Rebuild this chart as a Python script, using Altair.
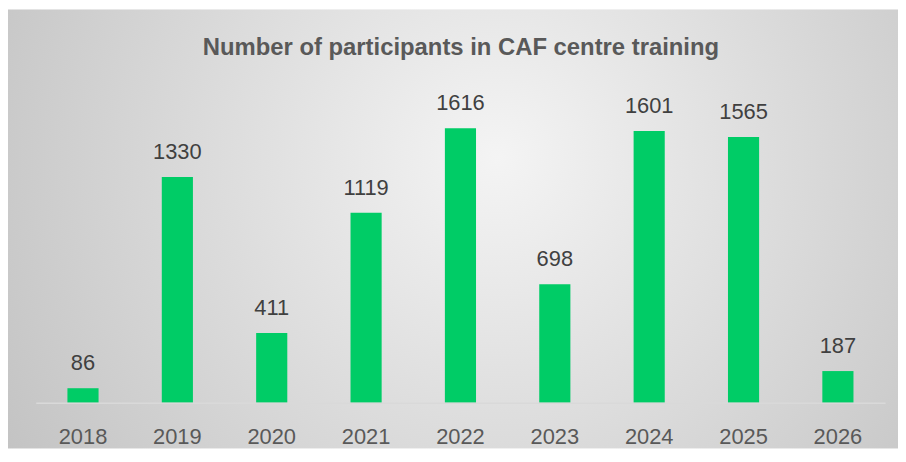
import altair as alt
import pandas as pd

years = ["2018", "2019", "2020", "2021", "2022", "2023", "2024", "2025", "2026"]
participants = [86, 1330, 411, 1119, 1616, 698, 1601, 1565, 187]

df = pd.DataFrame({"year": years, "participants": participants})

FONT = "Liberation Sans Narrow, Arial Narrow, Liberation Sans, sans-serif"

W, H = 896, 442

gradient = {
    "gradient": "radial",
    "x1": 0.55, "y1": 0.42, "r1": 0,
    "x2": 0.55, "y2": 0.42, "r2": 0.75,
    "stops": [
        {"offset": 0, "color": "#f4f4f4"},
        {"offset": 1, "color": "#bbbbbb"},
    ],
}

background = alt.Chart(df).mark_rect(color=gradient).encode(
    x=alt.value(0), x2=alt.value(W), y=alt.value(0), y2=alt.value(H)
).transform_filter(alt.datum.year == years[0])

base = alt.Chart(df).encode(
    x=alt.X(
        "year:N",
        title=None,
        scale=alt.Scale(range=[28, 883], paddingInner=0.67, paddingOuter=0.335),
        axis=alt.Axis(
            labelAngle=0,
            ticks=False,
            grid=False,
            domainColor="#d9d9d9",
            domainWidth=1.5,
            labelFont=FONT,
            labelFontSize=22,
            labelColor="#595959",
            labelBaseline="top",
            labelPadding=24,
            offset=-(H - 396),
            zindex=1,
        ),
    ),
    y=alt.Y(
        "participants:Q",
        scale=alt.Scale(domain=[0, 2000], range=[396, 54]),
        axis=None,
    ),
)

bars = base.mark_bar(color="#00CC66")
labels = base.mark_text(
    dy=-18, baseline="alphabetic", fontSize=22, color="#404040", font=FONT
).encode(text="participants:Q")

chart = (
    alt.layer(background, bars, labels)
    .properties(
        width=W,
        height=H,
        padding=0,
        autosize=alt.AutoSizeParams(type="none"),
        title=alt.TitleParams(
            "Number of participants in CAF centre  training",
            font=FONT,
            fontSize=24,
            fontWeight="bold",
            color="#595959",
            anchor="middle",
            offset=-45,
            baseline="alphabetic",
            dx=8,
            dy=25,
            zindex=1,
        ),
    )
    .configure_view(stroke=None)
)

chart.save("out.html", embed_options={"renderer": "svg", "actions": False})
